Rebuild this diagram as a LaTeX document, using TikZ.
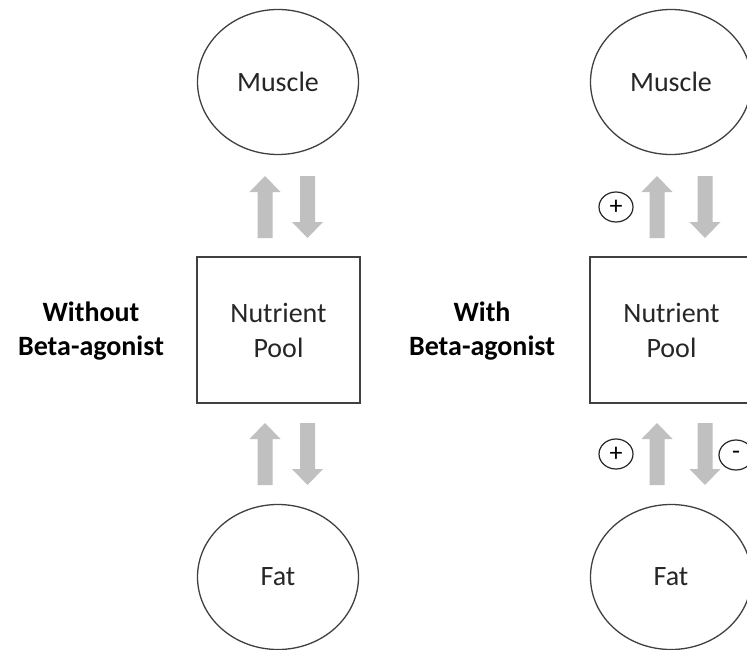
\documentclass[tikz,border=0pt]{standalone}
\usepackage{fontspec}
\setmainfont{Carlito}
\usetikzlibrary{shapes.geometric}
\definecolor{linegray}{HTML}{404040}
\definecolor{arrowgray}{HTML}{C0C0C0}
\definecolor{textdark}{HTML}{262626}
\begin{document}
\begin{tikzpicture}[x=1pt,y=-1pt,
  organ/.style={ellipse, draw=linegray, line width=1.3pt, minimum width=161pt, minimum height=145pt, inner sep=0pt, font=\fontsize{28}{34}\selectfont, text=textdark},
  poolbox/.style={rectangle, draw=linegray, line width=1.5pt, minimum width=163pt, minimum height=146pt, inner sep=0pt, align=center, font=\fontsize{28}{35}\selectfont, text=textdark},
  sidelabel/.style={align=center, font=\fontsize{28}{34}\selectfont\bfseries, text=black},
  signcirc/.style={ellipse, draw=black!85, line width=1.2pt, minimum width=34pt, minimum height=30pt, inner sep=0pt, font=\fontsize{26}{26}\selectfont, text=black},
  uparr/.pic={\fill[arrowgray] (0,0) -- (15.5,16) -- (7.5,16) -- (7.5,62) -- (-7.5,62) -- (-7.5,16) -- (-15.5,16) -- cycle;}
]
\path[use as bounding box, clip] (0,0) rectangle (747,650);
\fill[white] (0,0) rectangle (747,650);

% left panel
\node[organ] (muscleL) at (278,82) {Muscle};
\node[poolbox] (poolL) at (278.5,330) {Nutrient\\Pool};
\node[organ] (fatL) at (278,577) {Fat};
\node[sidelabel] (labelL) at (91,331) {Without\\Beta-agonist};
\pic at (265,176) {uparr};
\pic[rotate=180] at (307.5,238) {uparr};
\pic at (265,423) {uparr};
\pic[rotate=180] at (307.5,485) {uparr};

% right panel
\node[organ] (muscleR) at (671,82) {Muscle};
\node[poolbox] (poolR) at (671.5,330) {Nutrient\\Pool};
\node[organ] (fatR) at (671,577) {Fat};
\node[sidelabel] (labelR) at (482,331) {With\\Beta-agonist};
\pic at (657,176) {uparr};
\pic[rotate=180] at (705,238) {uparr};
\pic at (657,423) {uparr};
\pic[rotate=180] at (705,485) {uparr};
\node[signcirc] (plusTop) at (616,207) {+};
\node[signcirc] (plusBot) at (616,454) {+};
\node[signcirc] (minusBot) at (736,455) {-};
\end{tikzpicture}
\end{document}
